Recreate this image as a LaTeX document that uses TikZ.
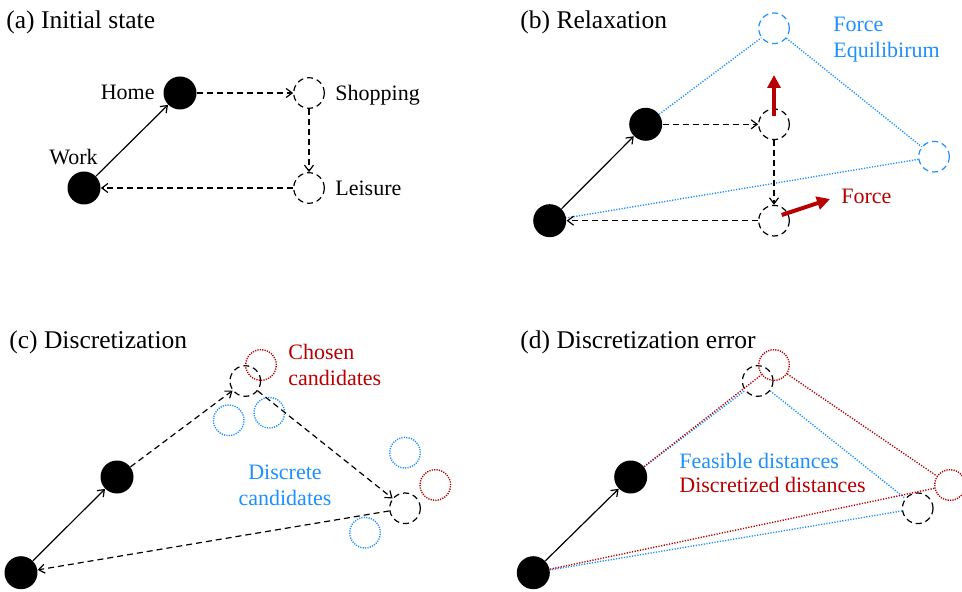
\documentclass[tikz,border=0pt]{standalone}
\usepackage{fontspec}
\setmainfont{Liberation Serif}
\usetikzlibrary{arrows.meta}
\definecolor{fblue}{RGB}{30,144,255}
\definecolor{fred}{RGB}{185,0,0}
\begin{document}
\begin{tikzpicture}[x=0.5pt,y=-0.5pt,
  act/.style={circle,fill=black,inner sep=0pt,minimum size=16.5pt},
  opt/.style={circle,draw=black,dash pattern=on 3pt off 2pt,line width=0.6pt,inner sep=0pt,minimum size=15.3pt},
  optblue/.style={opt,draw=fblue},
  cand/.style={circle,draw=#1,dash pattern=on 0.6pt off 0.6pt,line width=0.7pt,inner sep=0pt,minimum size=15.3pt},
  dotline/.style={draw=#1,dash pattern=on 0.6pt off 0.75pt,line width=0.7pt},
  solidarr/.style={line width=0.6pt,-{Straight Barb[length=3pt,width=4.5pt]}},
  dasharr/.style={line width=0.6pt,dash pattern=on 3pt off 2pt,-{Straight Barb[length=3pt,width=4.5pt]}},
  forcearr/.style={draw=fred,line width=2pt,-{Triangle[length=6.5pt,width=6.5pt]}},
  title/.style={font=\fontsize{12.75}{15}\selectfont,inner sep=0pt,anchor=base west},
  lbl/.style={font=\fontsize{11}{12.85}\selectfont,inner sep=0pt},
]
\useasboundingbox (0,0) rectangle (962,592);

% ---------- (a) ----------
\node[title] (ta) at (6,28.3) {(a) Initial state};
\node[act] (aw) at (84,188) {};
\node[act] (ah) at (180,93) {};
\node[opt] (as) at (309,93) {};
\node[opt] (al) at (309,188) {};
\node[lbl,anchor=base east] (lh) at (155,100) {Home};
\node[lbl,anchor=base east] (lw) at (98,164.3) {Work};
\node[lbl,anchor=base west] (ls) at (335,100.5) {Shopping};
\node[lbl,anchor=base west] (ll) at (335,196) {Leisure};
\draw[solidarr] (aw) -- (ah);
\draw[dasharr] (ah) -- (as);
\draw[dasharr] (as) -- (al);
\draw[dasharr] (al) -- (aw);

% ---------- (b) ----------
\node[title] (tb) at (520,28.3) {(b) Relaxation};
\node[act] (bw) at (549.7,220.7) {};
\node[act] (bh) at (645.7,124.3) {};
\node[opt] (bs) at (774,124.3) {};
\node[opt] (bl) at (774,220.7) {};
\node[optblue] (bs2) at (774,28.3) {};
\node[optblue] (bl2) at (934,156.7) {};
\draw[dotline=fblue] (bh) -- (bs2);
\draw[dotline=fblue] (bs2) -- (bl2);
\draw[dotline=fblue] (bl2) -- (bw);
\draw[solidarr] (bw) -- (bh);
\draw[dasharr] (bh) -- (bs);
\draw[dasharr] (bs) -- (bl);
\draw[dasharr] (bl) -- (bw);
\coordinate (fu0) at (774,116);
\coordinate (fu1) at (774,75);
\coordinate (fr0) at (781.7,215);
\coordinate (fr1) at (830,199);
\draw[forcearr] (fu0) -- (fu1);
\draw[forcearr] (fr0) -- (fr1);
\node[lbl,anchor=base west,text=fred] (lf) at (841,204) {Force};
\node[lbl,anchor=base west,text=fblue,align=left] (lfe) at (833,57.3) {Force\\Equilibirum};

% ---------- (c) ----------
\node[title] (tc) at (9,348.7) {(c) Discretization};
\node[act] (cw) at (21,572.7) {};
\node[act] (ch) at (117,477) {};
\node[opt] (c1) at (245.3,381) {};
\node[cand=fred] (c1r) at (261,365) {};
\node[cand=fblue] (c1b) at (228.7,420.3) {};
\node[cand=fblue] (c1c) at (269.3,412.7) {};
\node[opt] (c2) at (405,508.3) {};
\node[cand=fred] (c2r) at (435.3,485) {};
\node[cand=fblue] (c2b) at (405,452.7) {};
\node[cand=fblue] (c2c) at (365,532.7) {};
\draw[solidarr] (cw) -- (ch);
\draw[dasharr] (ch) -- (c1);
\draw[dasharr] (c1) -- (c2);
\draw[dasharr] (c2) -- (cw);
\node[lbl,anchor=base west,text=fred,align=left] (lcc) at (288,385.3) {Chosen\\candidates};
\node[lbl,anchor=base,text=fblue,align=center] (ldc) at (285,505.3) {Discrete\\candidates};

% ---------- (d) ----------
\node[title] (td) at (520,348.7) {(d) Discretization error};
\node[act] (dw) at (533.3,572.7) {};
\node[act] (dh) at (630.7,477) {};
\node[opt] (d1) at (757.7,381) {};
\node[cand=fred] (d1r) at (774,365) {};
\node[opt] (d2) at (917.7,508.3) {};
\node[cand=fred] (d2r) at (950,485) {};
\draw[dotline=fblue] (dh) -- (d1);
\draw[dotline=fblue] (d1) -- (d2);
\draw[dotline=fblue] (d2) -- (dw);
\draw[dotline=fred] (dh) -- (d1r);
\draw[dotline=fred] (d1r) -- (d2r);
\draw[dotline=fred] (d2r) -- (dw);
\draw[solidarr] (dw) -- (dh);
\node[lbl,anchor=base west,text=fblue] (lfd) at (679,468.3) {Feasible distances};
\node[lbl,anchor=base west,text=fred] (ldd) at (679,492.7) {Discretized distances};
\end{tikzpicture}
\end{document}
